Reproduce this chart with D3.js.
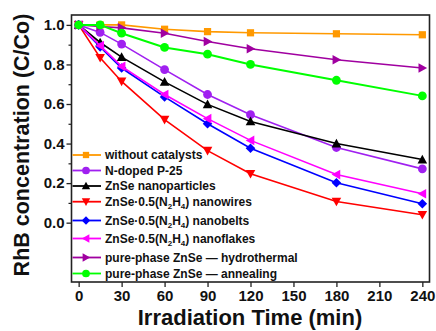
<!DOCTYPE html>
<html><head><meta charset="utf-8">
<script src="https://cdn.jsdelivr.net/npm/d3@7"></script>
<style>body{margin:0;background:#fff}svg{display:block}text{font-family:"Liberation Sans",Arial,sans-serif;font-weight:bold}</style>
</head><body><svg id="c" width="436" height="331"></svg>
<script>
const times = [0, 15, 30, 60, 90, 120, 180, 240];
const xTicks = [0, 30, 60, 90, 120, 150, 180, 210, 240];
const yTicks = [0.0, 0.2, 0.4, 0.6, 0.8, 1.0];
const seriesNames = ["without catalysts", "N-doped P-25", "ZnSe nanoparticles", "ZnSe·0.5(N2H4) nanowires", "ZnSe·0.5(N2H4) nanobelts", "ZnSe·0.5(N2H4) nanoflakes", "pure-phase ZnSe — hydrothermal", "pure-phase ZnSe — annealing"];
const withoutCat   = [1.0, 1.0, 1.0, 0.978, 0.966, 0.960, 0.955, 0.950];
const nDopedP25    = [1.0, 0.962, 0.903, 0.774, 0.648, 0.546, 0.380, 0.272];
const nanoparticles= [1.0, 0.911, 0.837, 0.712, 0.598, 0.512, 0.400, 0.319];
const nanowires    = [1.0, 0.834, 0.714, 0.521, 0.364, 0.247, 0.107, 0.040];
const nanobelts    = [1.0, 0.889, 0.782, 0.636, 0.500, 0.376, 0.202, 0.096];
const nanoflakes   = [1.0, 0.895, 0.790, 0.648, 0.526, 0.416, 0.243, 0.146];
const hydrothermal = [1.0, 0.992, 0.985, 0.958, 0.916, 0.879, 0.824, 0.782];
const annealing    = [1.0, 1.0, 0.958, 0.886, 0.852, 0.800, 0.720, 0.641];
const allSeries = [withoutCat, nDopedP25, nanoparticles, nanowires, nanobelts, nanoflakes, hydrothermal, annealing];
const colors = ["#ff9900", "#a020f0", "#000000", "#ff0000", "#0000ff", "#ff00ff", "#a000a0", "#00ff00"];
const shapes = ["square", "circle", "up", "down", "diamond", "left", "right", "circle"];

const svg = d3.select("#c");
const L = 71.5, R = 429.5, T = 15, B = 282;
const x = d3.scaleLinear().domain([-5, 245]).range([L, R]);
const y = d3.scaleLinear().domain([-0.3, 1.05]).range([B, T]);

function marker(g, shape, cx, cy, color, s) {
  let p;
  if (shape === "circle") { g.append("circle").attr("cx", cx).attr("cy", cy).attr("r", s*0.55).attr("fill", color); return; }
  if (shape === "square") { g.append("rect").attr("x", cx - s*0.45).attr("y", cy - s*0.45).attr("width", s*0.9).attr("height", s*0.9).attr("fill", color); return; }
  const h = s*0.6;
  if (shape === "up") p = [[cx, cy-h],[cx+h, cy+h*0.8],[cx-h, cy+h*0.8]];
  if (shape === "down") p = [[cx, cy+h],[cx+h, cy-h*0.8],[cx-h, cy-h*0.8]];
  if (shape === "left") p = [[cx-h, cy],[cx+h*0.8, cy-h],[cx+h*0.8, cy+h]];
  if (shape === "right") p = [[cx+h, cy],[cx-h*0.8, cy-h],[cx-h*0.8, cy+h]];
  if (shape === "diamond") p = [[cx, cy-h],[cx+h, cy],[cx, cy+h],[cx-h, cy]];
  g.append("polygon").attr("points", p.map(d => d.join(",")).join(" ")).attr("fill", color);
}

// axes
const xAxis = d3.axisBottom(x).tickValues(xTicks).tickSize(5).tickFormat(d3.format("d"));
const gx = svg.append("g").attr("transform", `translate(0,${B})`).call(xAxis);
gx.select(".domain").remove();
gx.selectAll(".tick line").attr("stroke", "#222").attr("stroke-width", 1.3);
gx.selectAll(".tick text").attr("font-size", 15).attr("fill", "#111").attr("dy", "0.9em").attr("y", 5);

const yAxis = d3.axisLeft(y).tickValues(yTicks).tickSize(5).tickFormat(d3.format(".1f"));
const gy = svg.append("g").attr("transform", `translate(${L},0)`).call(yAxis);
gy.select(".domain").remove();
gy.selectAll(".tick line").attr("stroke", "#222").attr("stroke-width", 1.3);
gy.selectAll(".tick text").attr("font-size", 15).attr("fill", "#111").attr("x", -7);
const yMinor = d3.axisLeft(y).tickValues([0.1, 0.3, 0.5, 0.7, 0.9]).tickSize(3).tickFormat("");
const gym = svg.append("g").attr("transform", `translate(${L},0)`).call(yMinor);
gym.select(".domain").remove();
gym.selectAll(".tick line").attr("stroke", "#222").attr("stroke-width", 1.2);

svg.append("rect").attr("x", L).attr("y", T).attr("width", R - L).attr("height", B - T)
  .attr("fill", "none").attr("stroke", "#222").attr("stroke-width", 1.6);

// series
const line = d3.line().x((d, i) => x(times[i])).y(d => y(d));
allSeries.forEach((vals, k) => {
  const g = svg.append("g");
  g.append("path").datum(vals).attr("d", line).attr("fill", "none").attr("stroke", colors[k]).attr("stroke-width", k === 7 ? 2 : 1.6);
  vals.forEach((v, i) => marker(g, shapes[k], x(times[i]), y(v), colors[k], 8));
});

// legend
const legY = [155, 170.5, 186, 201.7, 220.5, 238.5, 257.5, 273.5];
seriesNames.forEach((name, k) => {
  const g = svg.append("g");
  const yy = legY[k];
  g.append("line").attr("x1", L + 1).attr("x2", 101).attr("y1", yy).attr("y2", yy).attr("stroke", colors[k]).attr("stroke-width", 1.8);
  marker(g, shapes[k], 86, yy, colors[k], 7);
  const t = g.append("text").attr("x", 105).attr("y", yy + 4.3).attr("font-size", 12).attr("fill", "#111");
  const m = name.match(/^(ZnSe·0\.5\()N2H4(\).*)$/);
  if (m) {
    t.append("tspan").text(m[1] + "N");
    t.append("tspan").attr("font-size", 8).attr("dy", 3).text("2");
    t.append("tspan").attr("dy", -3).text("H");
    t.append("tspan").attr("font-size", 8).attr("dy", 3).text("4");
    t.append("tspan").attr("dy", -3).text(m[2]);
  } else t.text(name);
});

// titles
svg.append("text").attr("x", 250).attr("y", 325).attr("text-anchor", "middle").attr("font-size", 22).attr("fill", "#111").text("Irradiation Time (min)");
svg.append("text").attr("transform", "translate(29,145) rotate(-90)").attr("text-anchor", "middle").attr("font-size", 21.5).attr("fill", "#111").text("RhB concentration (C/Co)");
</script></body></html>
